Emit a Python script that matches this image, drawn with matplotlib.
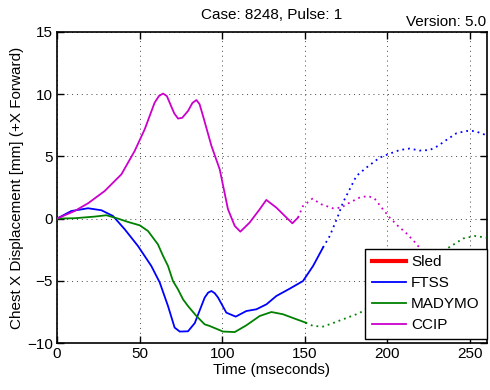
import matplotlib
matplotlib.use("Agg")
import matplotlib.pyplot as plt

plt.rcParams['font.family'] = ['Liberation Sans', 'DejaVu Sans']

# ---- data (time in ms, chest X displacement in mm) ----
ftss_t = [0, 8.7, 18.8, 26.9, 33.9, 41, 49, 57.1, 62.2, 67.2, 71.2, 74.3, 79.3, 83.4,
          87.4, 89.4, 91.5, 93.5, 95.5, 97.5, 102.5, 108.2, 114.6, 120.7, 126.8, 132.8, 140.9,
          148.9, 155, 161, 165.1, 170.1, 173.1, 177.2, 181.2, 187.3, 195.3, 200.4,
          207.4, 213.5, 219.5, 225.6, 230.6, 235.7, 241.8, 247.8, 252.8, 260]
ftss_v = [0, 0.61, 0.83, 0.67, 0.21, -0.86, -2.2, -3.81, -5.14, -7.03, -8.76, -9.08, -9.06, -8.4,
          -7.03, -6.35, -5.95, -5.82, -6.0, -6.35, -7.56, -7.88, -7.43, -7.29, -6.89, -6.22, -5.63,
          -5.02, -3.81, -2.33, -1.4, 0.21, 1.29, 2.36, 3.42, 4.1, 4.9, 5.17,
          5.51, 5.63, 5.47, 5.51, 5.84, 6.32, 6.86, 7.04, 7.04, 6.7]
ftss_solid_end = 161

madymo_t = [0, 10.7, 22.8, 29.9, 36.9, 43, 50.1, 55.1, 61.1, 64.2, 67.2, 70.2, 73.2, 76.3,
            79.3, 84.4, 89.4, 92.4, 100.5, 107.6, 114.6, 122.7, 129.8, 136.8, 144.9,
            150.5, 155, 161, 167, 175, 183, 195, 210, 225, 238.7, 245.8, 252.8, 260]
madymo_v = [0, 0.03, 0.16, 0.27, 0, -0.27, -0.54, -1.0, -2.07, -3.0, -3.81, -5.02, -5.68, -6.49,
            -7.03, -7.83, -8.5, -8.63, -9.08, -9.12, -8.58, -7.83, -7.51, -7.69, -8.09,
            -8.36, -8.63, -8.68, -8.4, -8.0, -7.6, -6.6, -5.0, -3.3, -2.2, -1.6, -1.4, -1.53]
madymo_solid_end = 150.5

ccip_t = [0, 10.7, 18.8, 28.9, 39, 47, 53.1, 59.1, 61.7, 64.2, 66.5, 68.2, 71, 73.3, 75.8,
          79.3, 82, 84.4, 86.3, 88.4, 93.5, 98.5, 103.5, 107.6, 111, 116.6, 122.7, 126.7,
          132.8, 138.9, 142.5, 145.9, 148.9, 154.6, 160, 167, 172, 177.2, 183.2, 188.3,
          192.3, 197.3, 201.4, 206.4, 211.5, 216.5, 225, 235, 245, 252, 260]
ccip_v = [0, 0.61, 1.23, 2.22, 3.56, 5.43, 7.18, 9.32, 9.85, 10.05, 9.85, 9.32, 8.45, 8.04, 8.1,
          8.65, 9.3, 9.53, 9.2, 8.25, 5.84, 3.96, 0.75, -0.59, -1.05, -0.32, 0.75, 1.5,
          0.88, 0.08, -0.38, 0.08, 1.01, 1.6, 1.15, 0.83, 0.88, 1.29, 1.69, 1.82,
          1.6, 0.75, 0.08, -0.59, -1.18, -1.88, -3.2, -4.8, -6.3, -7.2, -7.9]
ccip_solid_end = 145.9

series = [
    ("FTSS", ftss_t, ftss_v, ftss_solid_end, "#0000ff"),
    ("MADYMO", madymo_t, madymo_v, madymo_solid_end, "#008000"),
    ("CCIP", ccip_t, ccip_v, ccip_solid_end, "#cc00cc"),
]

x_ticks = [0, 50, 100, 150, 200, 250]
y_ticks = [-10, -5, 0, 5, 10, 15]

fig = plt.figure(figsize=(4.9, 3.9), dpi=100)
ax = fig.add_axes([0.1163, 0.1205, 0.8766, 0.7975])

ax.plot([], [], color="red", lw=3, label="Sled")
for name, t, v, tend, col in series:
    ts = [a for a in t if a <= tend]
    vs = [b for a, b in zip(t, v) if a <= tend]
    k = len(ts) - 1
    ax.plot(ts, vs, color=col, lw=1.3, label=name, zorder=3, solid_joinstyle="round")
    ax.plot(t[k:], v[k:], color=col, lw=1.3, ls=(0, (1.0, 2.2)), zorder=3)

ax.set_xlim(0, 260)
ax.set_ylim(-10, 15)
ax.set_xticks(x_ticks)
ax.set_yticks(y_ticks)
ax.tick_params(direction="in", top=True, right=True, length=5, width=1, labelsize=11, pad=3)
ax.grid(True, color="#444444", ls=(0, (1, 4)), lw=0.7)
for s in ax.spines.values():
    s.set_linewidth(1.2)

ax.set_xlabel("Time (mseconds)", fontsize=11, labelpad=1)
ax.set_ylabel("Chest X Displacement [mm] (+X Forward)", fontsize=11, labelpad=2)
ax.set_title("Case: 8248, Pulse: 1", fontsize=11, pad=9)
ax.text(1.0, 1.008, "Version: 5.0", transform=ax.transAxes, ha="right", va="bottom", fontsize=11)

leg = ax.legend(loc="lower right", bbox_to_anchor=(1.0, 0.013), fontsize=11,
                handlelength=2.2, handletextpad=0.35, borderpad=0.45, labelspacing=0.45,
                fancybox=False, framealpha=1, edgecolor="black", borderaxespad=0.0)
leg.get_frame().set_linewidth(1.0)
leg.set_zorder(5)

fig.savefig("out.png", dpi=100)
